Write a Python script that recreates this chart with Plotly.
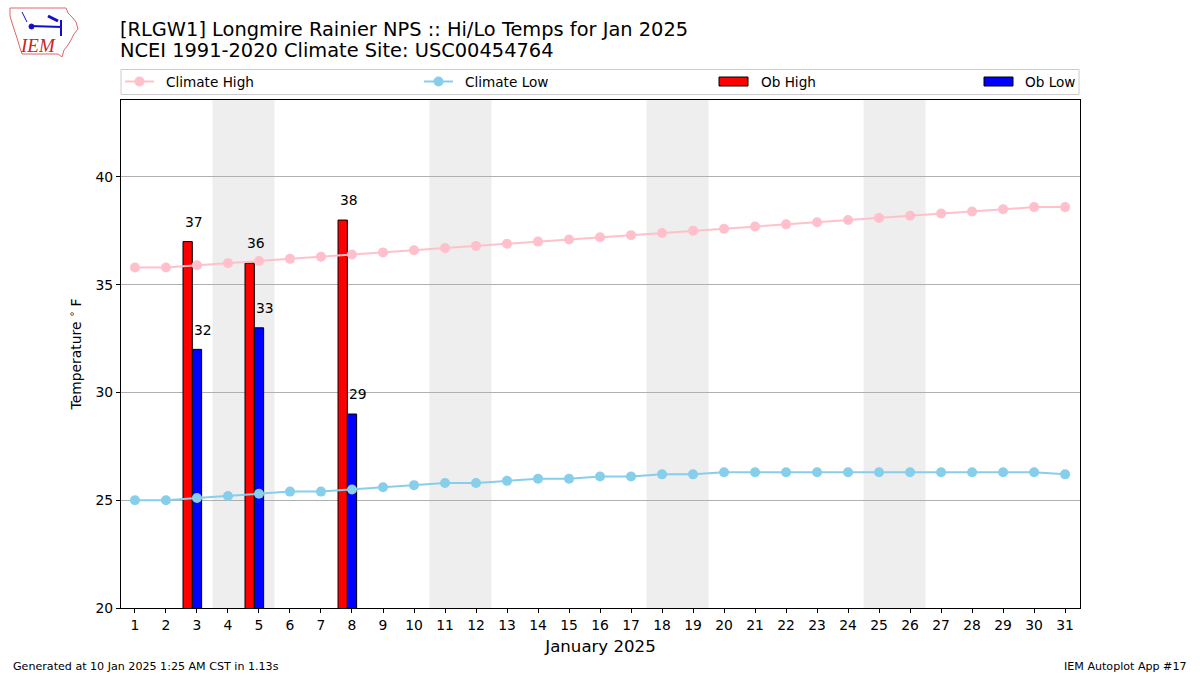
import plotly.graph_objects as go
import pandas as pd

days = list(range(1, 32))
climate_high = [35.8, 35.8, 35.9, 36.0, 36.1, 36.2, 36.3, 36.4, 36.5, 36.6,
                36.7, 36.8, 36.9, 37.0, 37.1, 37.2, 37.3, 37.4, 37.5, 37.6,
                37.7, 37.8, 37.9, 38.0, 38.1, 38.2, 38.3, 38.4, 38.5, 38.6, 38.6]
climate_low = [25.0, 25.0, 25.1, 25.2, 25.3, 25.4, 25.4, 25.5, 25.6, 25.7,
               25.8, 25.8, 25.9, 26.0, 26.0, 26.1, 26.1, 26.2, 26.2, 26.3,
               26.3, 26.3, 26.3, 26.3, 26.3, 26.3, 26.3, 26.3, 26.3, 26.3, 26.2]
ob_days = [3, 5, 8]
ob_high = [37, 36, 38]
ob_low = [32, 33, 29]

title1 = "[RLGW1] Longmire Rainier NPS :: Hi/Lo Temps for Jan 2025"
title2 = "NCEI 1991-2020 Climate Site: USC00454764"

FONT = "DejaVu Sans"
W, H = 1200, 675
ML, MR, MT, MB = 121, 120, 100, 67
PW, PH = W - ML - MR, H - MT - MB

C_HIGH = "#FFC0CB"
C_LOW = "#87CEEB"
C_OBH = "#FF0000"
C_OBL = "#0000FF"


def px(x):
    return (x - ML) / PW


def py(y):
    return (H - MB - y) / PH


fig = go.Figure()
fig.add_trace(go.Scatter(x=days, y=climate_high, mode="lines+markers", name="Climate High",
                         line=dict(color=C_HIGH, width=2), marker=dict(color=C_HIGH, size=10)))
fig.add_trace(go.Scatter(x=days, y=climate_low, mode="lines+markers", name="Climate Low",
                         line=dict(color=C_LOW, width=2), marker=dict(color=C_LOW, size=10)))
fig.add_trace(go.Bar(x=ob_days, y=ob_high, name="Ob High", width=0.3, offset=-0.45,
                     marker=dict(color=C_OBH, line=dict(color="black", width=1))))
fig.add_trace(go.Bar(x=ob_days, y=ob_low, name="Ob Low", width=0.3, offset=-0.15,
                     marker=dict(color=C_OBL, line=dict(color="black", width=1))))

# weekend shading (Sat+Sun blocks)
dates = pd.date_range("2025-01-01", "2025-01-31")
for d in dates:
    if d.dayofweek == 5:
        end = min(d.day + 1.5, 31.5)
        fig.add_shape(type="rect", xref="x", yref="paper", x0=d.day - 0.5, x1=end,
                      y0=0, y1=1, fillcolor="#EEEEEE", line=dict(width=0), layer="below")
    elif d.dayofweek == 6 and d.day == 1:
        fig.add_shape(type="rect", xref="x", yref="paper", x0=0.5, x1=1.5,
                      y0=0, y1=1, fillcolor="#EEEEEE", line=dict(width=0), layer="below")

# value labels
for d, v in zip(ob_days, ob_high):
    fig.add_annotation(x=d - 0.45, y=v + 0.45, text=str(v), showarrow=False, xanchor="left",
                       yanchor="bottom", font=dict(family=FONT, size=13.9, color="black"))
for d, v in zip(ob_days, ob_low):
    fig.add_annotation(x=d - 0.15, y=v + 0.45, text=str(v), showarrow=False, xanchor="left",
                       yanchor="bottom", font=dict(family=FONT, size=13.9, color="black"))

# titles
fig.add_annotation(xref="paper", yref="paper", x=px(118), y=py(29), text=title1, showarrow=False,
                   xanchor="left", yanchor="middle", font=dict(family=FONT, size=19.4, color="black"))
fig.add_annotation(xref="paper", yref="paper", x=px(118), y=py(51), text=title2, showarrow=False,
                   xanchor="left", yanchor="middle", font=dict(family=FONT, size=19.4, color="black"))

# footer
fig.add_annotation(xref="paper", yref="paper", x=px(11), y=py(666),
                   text="Generated at 10 Jan 2025 1:25 AM CST in 1.13s", showarrow=False,
                   xanchor="left", yanchor="middle", font=dict(family=FONT, size=11.1, color="black"))
fig.add_annotation(xref="paper", yref="paper", x=px(1189), y=py(666),
                   text="IEM Autoplot App #17", showarrow=False,
                   xanchor="right", yanchor="middle", font=dict(family=FONT, size=11.1, color="black"))

# manual legend (matplotlib-style, expanded across the axes width)
fig.add_shape(type="rect", xref="paper", yref="paper", x0=px(121), x1=px(1079), y0=py(94.5), y1=py(69.5),
              line=dict(color="#CCCCCC", width=1), fillcolor="white", layer="above")
LEG_Y = 81.5
legend_items = [("Climate High", "line", C_HIGH, 125, 164),
                ("Climate Low", "line", C_LOW, 424, 463),
                ("Ob High", "patch", C_OBH, 719, 759),
                ("Ob Low", "patch", C_OBL, 984, 1023)]
for name, kind, color, x0, tx in legend_items:
    if kind == "line":
        fig.add_shape(type="line", xref="paper", yref="paper", x0=px(x0), x1=px(x0 + 29),
                      y0=py(LEG_Y), y1=py(LEG_Y), line=dict(color=color, width=2), layer="above")
        cx = x0 + 14.5
        fig.add_shape(type="circle", xref="paper", yref="paper", x0=px(cx - 5), x1=px(cx + 5),
                      y0=py(LEG_Y + 5), y1=py(LEG_Y - 5), line=dict(color=color, width=0),
                      fillcolor=color, layer="above")
    else:
        fig.add_shape(type="rect", xref="paper", yref="paper", x0=px(x0), x1=px(x0 + 29),
                      y0=py(LEG_Y + 4.5), y1=py(LEG_Y - 4.5), line=dict(color="black", width=1),
                      fillcolor=color, layer="above")
    fig.add_annotation(xref="paper", yref="paper", x=px(tx), y=py(LEG_Y), text=name, showarrow=False,
                       xanchor="left", yanchor="middle", font=dict(family=FONT, size=13.6, color="black"))

# logo (approximation)
outline = [(10, 8), (66, 8), (68, 13), (72, 17), (76, 22), (78, 29), (74, 34), (71, 40),
           (68, 45), (64, 50), (62, 57), (58, 54), (22, 54), (20, 48), (17, 38), (13, 26), (10, 16)]
path = "M " + " L ".join(f"{px(x):.5f},{py(y):.5f}" for x, y in outline) + " Z"
fig.add_shape(type="path", xref="paper", yref="paper", path=path,
              line=dict(color="#E06666", width=1), fillcolor="white", layer="above")
fig.add_shape(type="line", xref="paper", yref="paper", x0=px(30), y0=py(26), x1=px(62), y1=py(27),
              line=dict(color="#1010CC", width=2), layer="above")
fig.add_shape(type="circle", xref="paper", yref="paper", x0=px(29), y0=py(24), x1=px(34), y1=py(29),
              line=dict(color="#1010CC", width=1), fillcolor="#1010CC", layer="above")
fig.add_shape(type="line", xref="paper", yref="paper", x0=px(48), y0=py(16), x1=px(58), y1=py(21),
              line=dict(color="#1010CC", width=3), layer="above")
fig.add_shape(type="line", xref="paper", yref="paper", x0=px(61), y0=py(20), x1=px(61), y1=py(36),
              line=dict(color="#1010CC", width=2), layer="above")
fig.add_shape(type="line", xref="paper", yref="paper", x0=px(22), y0=py(12), x1=px(27), y1=py(22),
              line=dict(color="#1010CC", width=1), layer="above")
fig.add_annotation(xref="paper", yref="paper", x=px(38), y=py(46), text="<i>IEM</i>", showarrow=False,
                   xanchor="center", yanchor="middle",
                   font=dict(family="Liberation Serif", size=19, color="#CC2222"))

fig.update_layout(
    width=W, height=H,
    margin=dict(l=ML, r=MR, t=MT, b=MB),
    paper_bgcolor="white", plot_bgcolor="white",
    font=dict(family=FONT, size=13.9, color="black"),
    barmode="overlay",
    showlegend=False,
    xaxis=dict(range=[0.55, 31.48], tickmode="array", tickvals=days, ticktext=[str(d) for d in days],
               showgrid=False, zeroline=False, showline=True, mirror=True, linecolor="black",
               linewidth=1, ticks="outside", ticklen=4, tickcolor="black",
               tickfont=dict(family=FONT, size=13.9),
               title=dict(text="January 2025", font=dict(family=FONT, size=16.6), standoff=8)),
    yaxis=dict(range=[20, 43.57], tickvals=[20, 25, 30, 35, 40], showgrid=True,
               gridcolor="#B0B0B0", gridwidth=1, zeroline=False, showline=True, mirror=True,
               linecolor="black", linewidth=1, ticks="outside", ticklen=4, tickcolor="black",
               tickfont=dict(family=FONT, size=13.9),
               title=dict(text="Temperature <sup>∘</sup> F", font=dict(family=FONT, size=13.9),
                          standoff=10)),
)

fig.write_html("out.html", config={"displayModeBar": False},
               post_script="document.body.style.margin='0px';")
